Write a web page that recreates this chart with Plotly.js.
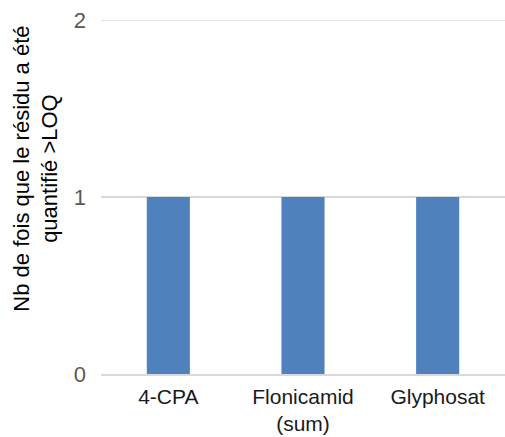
<!DOCTYPE html>
<html><head><meta charset="utf-8">
<script src="https://cdn.plot.ly/plotly-3.0.1.min.js"></script>
<style>html,body{margin:0;padding:0;background:#fff}#c{width:505px;height:437px}</style>
</head><body><div id="c"></div>
<script>
const categories = ["4-CPA", "Flonicamid<br>(sum)", "Glyphosat"];
const values = [1, 1, 1];
const yTicks = [0, 1, 2];
const yTitle = "Nb de fois que le résidu a été<br>quantifié >LOQ";

const gridShapes = yTicks.filter(v => v > 0).map(v => ({
  type: 'line', xref: 'paper', yref: 'y', x0: 0, x1: 1, y0: v, y1: v,
  line: {color: '#d9d9d9', width: 1.5}, layer: 'below'
}));

Plotly.newPlot('c', [{
  type: 'bar', x: categories, y: values,
  marker: {color: '#4F81BD'}, hoverinfo: 'none'
}], {
  width: 505, height: 437,
  margin: {l: 101, r: 0, t: 20, b: 63},
  bargap: 0.68,
  paper_bgcolor: '#fff', plot_bgcolor: '#fff',
  font: {family: '"Liberation Sans", Arial, sans-serif', size: 22, color: '#595959'},
  xaxis: {
    showgrid: false, showline: true, linecolor: '#d9d9d9', linewidth: 1.5,
    ticks: '', ticklabelstandoff: 3, tickfont: {color: '#1a1a1a', size: 21}
  },
  yaxis: {
    range: [0, 2], tickmode: 'array', tickvals: yTicks,
    showgrid: true, gridcolor: '#d9d9d9', gridwidth: 1.5,
    zeroline: false, showline: false, ticks: '', ticklabelstandoff: 14,
    tickfont: {color: '#595959', size: 22}
  },
  shapes: gridShapes,
  annotations: [{
    text: yTitle, textangle: -90, align: 'center', showarrow: false,
    xref: 'paper', yref: 'paper', x: -0.163, y: 0.5805,
    xanchor: 'center', yanchor: 'middle',
    font: {color: '#000', size: 22}
  }],
  showlegend: false
}, {displayModeBar: false, staticPlot: true});
</script></body></html>
